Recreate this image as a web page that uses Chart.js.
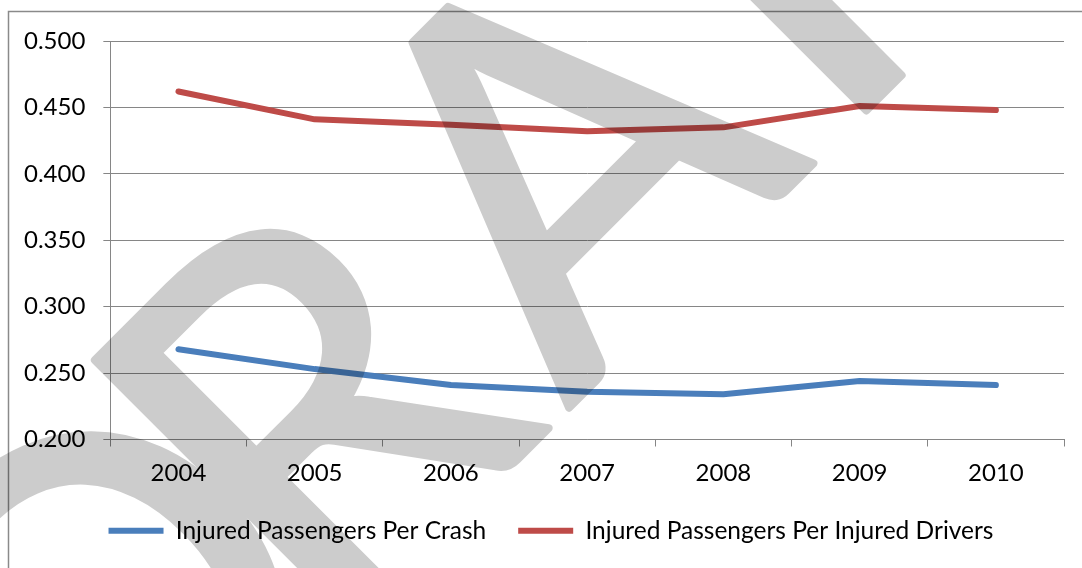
<!DOCTYPE html>
<html>
<head>
<meta charset="utf-8">
<script src="https://cdn.jsdelivr.net/npm/chart.js@4/dist/chart.umd.min.js"></script>
<style>
  html, body { margin: 0; padding: 0; background: #fff; overflow: hidden; }
  #wrap { width: 1082px; height: 568px; position: relative; overflow: hidden; }
  #lineChart { position: absolute; left: 0; top: 0; }
</style>
</head>
<body>
<div id="wrap"><canvas id="lineChart" width="1082" height="568"></canvas></div>
<script>
var years = ["2004", "2005", "2006", "2007", "2008", "2009", "2010"];
var perCrash = [0.268, 0.253, 0.241, 0.236, 0.234, 0.244, 0.241];
var perInjuredDriver = [0.462, 0.441, 0.437, 0.432, 0.435, 0.451, 0.448];
var yTicks = [0.2, 0.25, 0.3, 0.35, 0.4, 0.45, 0.5];

var axisGrey = "#868686";

// outer chart frame, runs off the right and bottom edge
var framePlugin = {
  id: "outerFrame",
  afterDraw: function (chart) {
    var ctx = chart.ctx;
    ctx.save();
    ctx.strokeStyle = "#8a8a8a";
    ctx.lineWidth = 1.5;
    ctx.beginPath();
    ctx.moveTo(8.5, chart.height);
    ctx.lineTo(8.5, 11.5);
    ctx.lineTo(chart.width, 11.5);
    ctx.stroke();
    ctx.restore();
  }
};

// nudge the legend a bit right, like the original
var legendShift = {
  id: "legendShift",
  afterLayout: function (chart) {
    chart.legend.left += 16;
    chart.legend.right += 16;
  }
};

// "DRAFT" watermark laid over everything, letters placed one by one
var watermarkPlugin = {
  id: "watermark",
  afterDraw: function (chart) {
    var ctx = chart.ctx;
    var off = document.createElement("canvas");
    off.width = chart.width;
    off.height = chart.height;
    var o = off.getContext("2d");
    o.translate(90, 365);
    o.rotate(-Math.PI / 4);
    o.font = "515px Lato";
    o.textAlign = "left";
    o.textBaseline = "alphabetic";
    o.fillStyle = "#000";
    o.strokeStyle = "#000";
    o.lineWidth = 8;
    o.lineJoin = "round";
    var base = 369;
    function put(ch, x) {
      o.fillText(ch, x, base);
      o.strokeText(ch, x, base);
    }
    var mR = o.measureText("R");
    var mD = o.measureText("D");
    var mA = o.measureText("A");
    var mF = o.measureText("F");
    var mT = o.measureText("T");
    put("R", 0 + mR.actualBoundingBoxLeft);
    put("D", 5 - mD.actualBoundingBoxRight);
    put("A", 484 - (mA.actualBoundingBoxRight - mA.actualBoundingBoxLeft) / 2);
    var fx = 722 + mF.actualBoundingBoxLeft;
    put("F", fx);
    put("T", fx + mF.actualBoundingBoxRight + 30 + mT.actualBoundingBoxLeft);
    ctx.save();
    ctx.globalAlpha = 0.2;
    ctx.drawImage(off, 0, 0);
    ctx.restore();
  }
};

new Chart(document.getElementById("lineChart"), {
  type: "line",
  data: {
    labels: years,
    datasets: [
      {
        label: "Injured Passengers Per Crash",
        data: perCrash,
        borderColor: "#4a7ebb",
        backgroundColor: "#4a7ebb",
        borderWidth: 6,
        borderCapStyle: "round",
        borderJoinStyle: "round",
        pointRadius: 0,
        tension: 0
      },
      {
        label: "Injured Passengers Per Injured Drivers",
        data: perInjuredDriver,
        borderColor: "#be4b48",
        backgroundColor: "#be4b48",
        borderWidth: 6,
        borderCapStyle: "round",
        borderJoinStyle: "round",
        pointRadius: 0,
        tension: 0
      }
    ]
  },
  options: {
    responsive: false,
    animation: false,
    events: [],
    layout: {
      padding: { top: 41, right: 18, left: 6, bottom: 15 }
    },
    scales: {
      x: {
        offset: true,
        border: { color: axisGrey, width: 1 },
        grid: {
          offset: true,
          drawOnChartArea: false,
          drawTicks: true,
          tickLength: 7,
          color: axisGrey
        },
        ticks: {
          color: "#000",
          padding: 12,
          font: { family: "Lato", size: 24 }
        },
        afterFit: function (axis) {
          axis.height = 47;
        }
      },
      y: {
        min: 0.2,
        max: 0.5,
        afterBuildTicks: function (axis) {
          axis.ticks = yTicks.map(function (v) { return { value: v }; });
        },
        border: { color: axisGrey, width: 1 },
        grid: {
          color: axisGrey,
          tickLength: 7,
          lineWidth: 1
        },
        ticks: {
          color: "#000",
          padding: 18,
          font: { family: "Lato", size: 24 },
          callback: function (v) { return v.toFixed(3); }
        }
      }
    },
    plugins: {
      legend: {
        position: "bottom",
        maxHeight: 70,
        labels: {
          usePointStyle: true,
          pointStyle: "line",
          pointStyleWidth: 55,
          padding: 32,
          color: "#000",
          font: { family: "Lato", size: 24.5 }
        }
      },
      tooltip: { enabled: false }
    }
  },
  plugins: [framePlugin, legendShift, watermarkPlugin]
});
</script>
</body>
</html>
